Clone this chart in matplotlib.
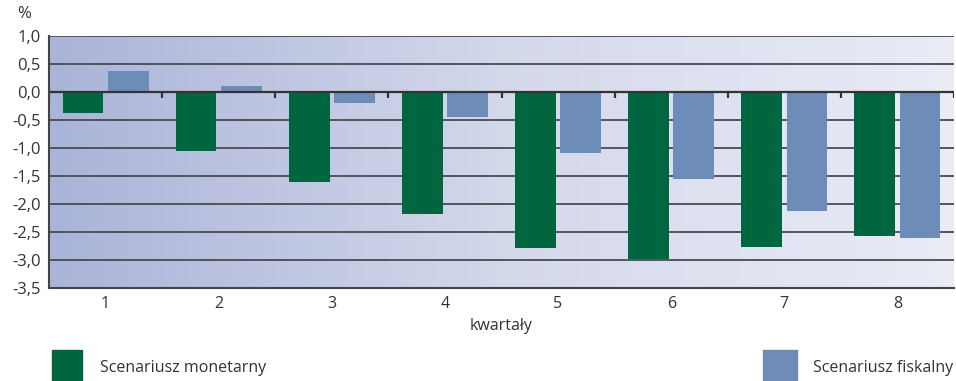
import numpy as np
import matplotlib.pyplot as plt
from matplotlib.patches import Rectangle
from matplotlib.colors import LinearSegmentedColormap

plt.rcParams['font.family'] = ['Open Sans', 'DejaVu Sans']

quarters = [1, 2, 3, 4, 5, 6, 7, 8]
monetary = [-0.38, -1.05, -1.6, -2.18, -2.79, -2.99, -2.77, -2.57]
fiscal = [0.375, 0.1, -0.2, -0.45, -1.09, -1.55, -2.12, -2.6]

GREEN = '#006640'
BLUE = '#6e8cb8'
GRID = '#4a4a52'

fig = plt.figure(figsize=(9.56, 3.81), dpi=100)
ax = fig.add_axes([49 / 956, 1 - 288 / 381, 905 / 956, 252 / 381])

x = np.array(quarters)
ax.set_xlim(0.5, 8.5)
ax.set_ylim(-3.5, 1.0)

# background gradient, darker on the left
cmap = LinearSegmentedColormap.from_list('bg', ['#aab4d8', '#d3d8eb', '#eaecf6'])
grad = np.linspace(0, 1, 256).reshape(1, -1)
ax.imshow(grad, cmap=cmap, aspect='auto', extent=(0.5, 8.5, -3.5, 1.0), zorder=0)

yticks = np.arange(-3.5, 1.01, 0.5)
for y in yticks:
    ax.axhline(y, color=GRID, lw=1.3, zorder=1)

w = 0.36
ax.bar(x - 0.2, monetary, width=w, color=GREEN, zorder=3)
ax.bar(x + 0.2, fiscal, width=w, color=BLUE, zorder=3)

ax.axhline(0, color='#333333', lw=1.6, zorder=4)
ax.vlines(np.arange(0.5, 9.0, 1.0), -0.1, 0, color='#333333', lw=1.6, zorder=4)

ax.set_yticks(yticks)
ax.set_yticklabels([f'{v:.1f}'.replace('.', ',') for v in yticks], fontsize=12, color='#333333')
ax.set_xticks(x)
ax.set_xticklabels([str(q) for q in quarters], fontsize=11.5, color='#333333')
ax.tick_params(axis='both', length=0, pad=6)
ax.set_xlabel('kwartały', fontsize=11.5, color='#333333', labelpad=4)

for side in ['top', 'right']:
    ax.spines[side].set_visible(False)
for side in ['left', 'bottom']:
    ax.spines[side].set_color('#444444')
    ax.spines[side].set_linewidth(1.5)
    ax.spines[side].set_zorder(5)

fig.text(17 / 956, 1 - 14 / 381, '%', fontsize=12, color='#333333', va='center')

# legend
fig.patches.append(Rectangle((52 / 956, 0), 30 / 956, 31 / 381, color=GREEN,
                             transform=fig.transFigure, figure=fig))
fig.text(100 / 956, 1 - 368 / 381, 'Scenariusz monetarny', fontsize=11.5,
         color='#333333', va='center')
fig.patches.append(Rectangle((763 / 956, 0), 34 / 956, 31 / 381, color=BLUE,
                             transform=fig.transFigure, figure=fig))
fig.text(953 / 956, 1 - 368 / 381, 'Scenariusz fiskalny', fontsize=11.5,
         color='#333333', va='center', ha='right')

fig.savefig('out.png', dpi=100)
